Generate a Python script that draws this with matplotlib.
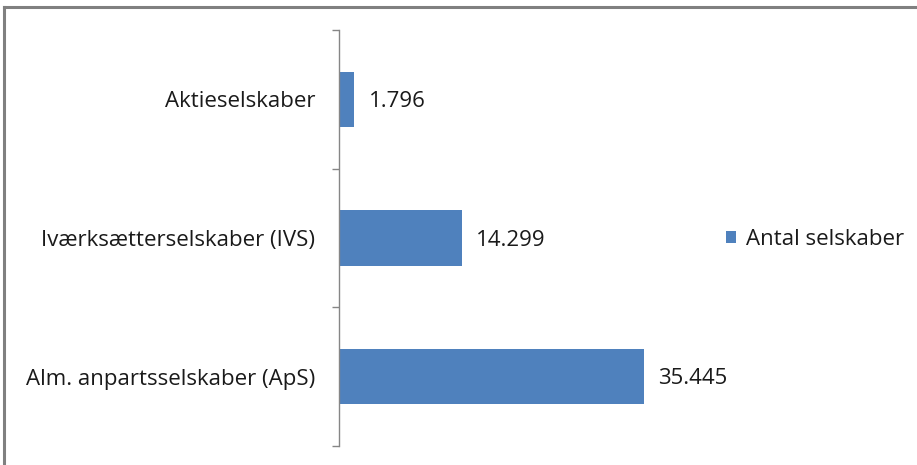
import matplotlib
matplotlib.use("Agg")
import matplotlib.pyplot as plt
from matplotlib.lines import Line2D
from matplotlib.patches import Patch
from matplotlib.ticker import FixedLocator, NullFormatter, FixedFormatter

categories = ["Alm. anpartsselskaber (ApS)", "Iværksætterselskaber (IVS)", "Aktieselskaber"]
values = [35445, 14299, 1796]
value_labels = ["35.445", "14.299", "1.796"]
series_name = "Antal selskaber"

plt.rcParams['font.family'] = ['Open Sans', 'DejaVu Sans']
FS = 16
W, H = 917, 465
fig = plt.figure(figsize=(W / 100, H / 100), dpi=100)
fig.patch.set_facecolor("white")

ax = fig.add_axes([339 / W, 19 / H, (683 - 339) / W, (446 - 30) / H])
ypos = list(range(len(categories)))
bars = ax.barh(ypos, values, height=0.4, color="#4F81BD", label=series_name)
ax.set_xlim(0, 40000)
ax.set_ylim(-0.5, len(categories) - 0.5)

for s in ["top", "right", "bottom"]:
    ax.spines[s].set_visible(False)
ax.spines["left"].set_color("#868686")
ax.spines["left"].set_linewidth(1.0)
ax.set_xticks([])

ax.yaxis.set_major_locator(FixedLocator([y - 0.5 for y in ypos] + [len(categories) - 0.5]))
ax.yaxis.set_major_formatter(NullFormatter())
ax.yaxis.set_minor_locator(FixedLocator(ypos))
ax.yaxis.set_minor_formatter(FixedFormatter(categories))
ax.tick_params(axis="y", which="major", length=5, color="#868686", width=1.0, direction="out")
ax.tick_params(axis="y", which="minor", length=0, pad=17, labelsize=FS, labelcolor="#1a1a1a")

for b, lab in zip(bars, value_labels):
    ax.annotate(lab, (b.get_width(), b.get_y() + b.get_height() / 2),
                xytext=(14, -2), textcoords="offset pixels",
                va="center", ha="left", fontsize=FS, color="#1a1a1a")

handle = Patch(facecolor="#4F81BD", edgecolor="none")
fig.legend([handle], [series_name], loc="center left",
           bbox_to_anchor=(706 / W, 1 - 239 / H), frameon=False,
           fontsize=FS, handlelength=0.45, handleheight=0.45, handletextpad=0.45,
           labelcolor="#1a1a1a")

# outer border (top and left)
fig.add_artist(Line2D([4 / W, 1], [1 - 7 / H, 1 - 7 / H], color="#808080", lw=2.2, transform=fig.transFigure))
fig.add_artist(Line2D([4 / W, 4 / W], [0, 1 - 7 / H], color="#808080", lw=2.2, transform=fig.transFigure))

fig.savefig("out.png", dpi=100, facecolor="white")
